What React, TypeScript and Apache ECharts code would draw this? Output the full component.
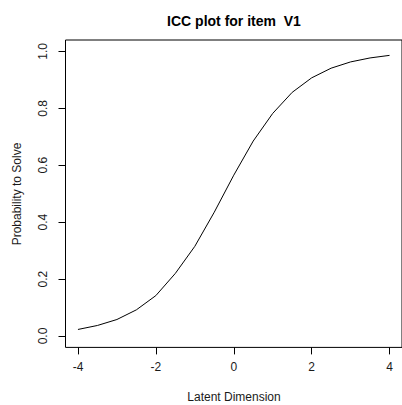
import React, { useEffect, useRef } from "react";
import * as echarts from "echarts";

const latent = [-4, -3.5, -3, -2.5, -2, -1.5, -1, -0.5, 0, 0.5, 1, 1.5, 2, 2.5, 3, 3.5, 4];
const prob = [0.023, 0.037, 0.058, 0.092, 0.142, 0.22, 0.315, 0.435, 0.565, 0.685, 0.782, 0.856, 0.907, 0.941, 0.963, 0.977, 0.986];
const xTicks = [-4, -2, 0, 2, 4];
const yTicks = [0, 0.2, 0.4, 0.6, 0.8, 1.0];
const titleText = "ICC plot for item  V1";
const xName = "Latent Dimension";
const yName = "Probability to Solve";

export default function App() {
  const ref = useRef<HTMLDivElement>(null);
  useEffect(() => {
    if (!ref.current) return;
    const chart = echarts.init(ref.current, null, { renderer: "svg" });
    const font = "'Liberation Sans', Arial, sans-serif";
    chart.setOption({
      animation: false,
      backgroundColor: "#ffffff",
      grid: {
        left: 65.5,
        right: -1,
        top: 40,
        bottom: 57.6,
        show: true,
        borderColor: "#000",
        borderWidth: 1,
        backgroundColor: "transparent",
      },
      xAxis: {
        type: "value",
        min: -4.32,
        max: 4.32,
        axisLine: { show: false, onZero: false },
        splitLine: { show: false },
        axisTick: {
          show: true,
          inside: false,
          length: 7,
          customValues: xTicks,
          lineStyle: { color: "#000", width: 1 },
        },
        axisLabel: {
          customValues: xTicks,
          margin: 14,
          fontSize: 12,
          fontFamily: font,
          color: "#1a1a1a",
          formatter: (v: number) => String(v),
        },
      },
      yAxis: {
        type: "value",
        min: -0.04,
        max: 1.04,
        axisLine: { show: false, onZero: false },
        splitLine: { show: false },
        axisTick: {
          show: true,
          inside: false,
          length: 7,
          customValues: yTicks,
          lineStyle: { color: "#000", width: 1 },
        },
        axisLabel: {
          customValues: yTicks,
          rotate: 90,
          margin: 17,
          fontSize: 12,
          fontFamily: font,
          color: "#1a1a1a",
          formatter: (v: number) => v.toFixed(1),
        },
      },
      graphic: [
        {
          type: "text",
          x: 234,
          y: 20.5,
          style: {
            text: titleText,
            align: "center",
            verticalAlign: "middle",
            fontSize: 14,
            fontWeight: "bold",
            fontFamily: font,
            fill: "#000",
          },
        },
        {
          type: "text",
          x: 234,
          y: 397,
          style: {
            text: xName,
            align: "center",
            verticalAlign: "middle",
            fontSize: 12,
            fontFamily: font,
            fill: "#1a1a1a",
          },
        },
        {
          type: "text",
          x: 17,
          y: 194,
          rotation: Math.PI / 2,
          style: {
            text: yName,
            align: "center",
            verticalAlign: "middle",
            fontSize: 12,
            fontFamily: font,
            fill: "#1a1a1a",
          },
        },
      ],
      series: [
        {
          type: "line",
          data: latent.map((x, i) => [x, prob[i]]),
          showSymbol: false,
          smooth: false,
          lineStyle: { color: "#000", width: 1 },
        },
      ],
    });
    return () => chart.dispose();
  }, []);
  return (
    <div
      ref={ref}
      style={{ position: "fixed", left: 0, top: 0, width: 402, height: 405 }}
    />
  );
}
